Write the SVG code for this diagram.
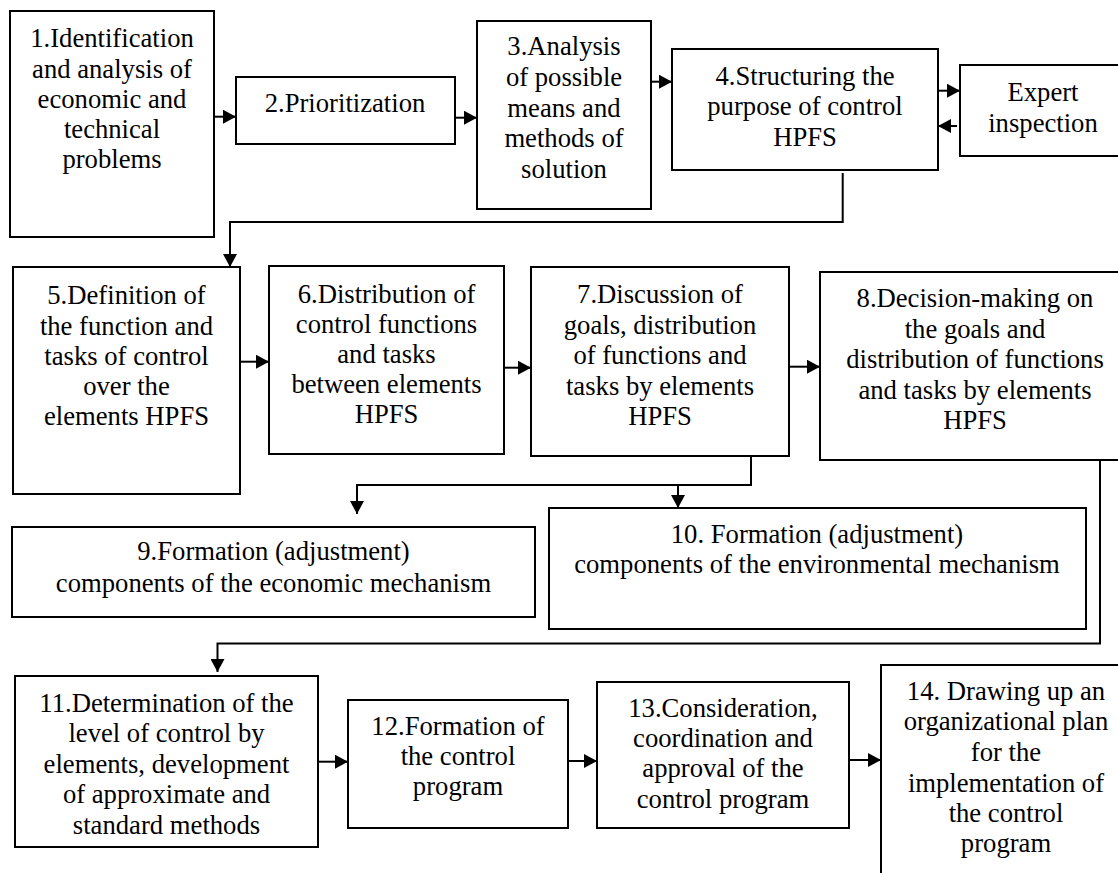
<svg xmlns="http://www.w3.org/2000/svg" width="1118" height="873" viewBox="0 0 1118 873">
  <defs>
    <style>
      .box { fill: #ffffff; stroke: #000000; stroke-width: 2; }
      .lbl { font-family: "Liberation Serif", "Times New Roman", serif; font-size: 26.67px; fill: #000000; text-anchor: middle; }
      .conn { fill: none; stroke: #000000; stroke-width: 2; }
    </style>
    <marker id="arrow" markerUnits="userSpaceOnUse" markerWidth="14" markerHeight="14" refX="13" refY="7" orient="auto">
      <path d="M0,0 L13,7 L0,14 z" fill="#000000"/>
    </marker>
  </defs>
  <rect width="1118" height="873" fill="#ffffff"/>

  <g id="node1">
    <rect class="box" x="10" y="11" width="204" height="226"/>
    <text class="lbl" x="112"><tspan x="112" y="47">1.Identification</tspan><tspan x="112" y="77.5">and analysis of</tspan><tspan x="112" y="108">economic and</tspan><tspan x="112" y="138">technical</tspan><tspan x="112" y="168">problems</tspan></text>
  </g>
  <g id="node2">
    <rect class="box" x="236" y="77" width="219" height="67"/>
    <text class="lbl" x="345" y="111.7">2.Prioritization</text>
  </g>
  <g id="node3">
    <rect class="box" x="477" y="21" width="174" height="188"/>
    <text class="lbl"><tspan x="564" y="55">3.Analysis</tspan><tspan x="564" y="86">of possible</tspan><tspan x="564" y="116.5">means and</tspan><tspan x="564" y="147">methods of</tspan><tspan x="564" y="178">solution</tspan></text>
  </g>
  <g id="node4">
    <rect class="box" x="672" y="49" width="266" height="121"/>
    <text class="lbl"><tspan x="805" y="84.5">4.Structuring the</tspan><tspan x="805" y="115">purpose of control</tspan><tspan x="805" y="145.5">HPFS</tspan></text>
  </g>
  <g id="expert">
    <rect class="box" x="960" y="65" width="168" height="91"/>
    <text class="lbl"><tspan x="1043" y="101">Expert</tspan><tspan x="1043" y="131.5">inspection</tspan></text>
  </g>
  <g id="node5">
    <rect class="box" x="13" y="267" width="227" height="227"/>
    <text class="lbl"><tspan x="126.5" y="304">5.Definition of</tspan><tspan x="126.5" y="334.5">the function and</tspan><tspan x="126.5" y="364.5">tasks of control</tspan><tspan x="126.5" y="394.5">over the</tspan><tspan x="126.5" y="424.5">elements HPFS</tspan></text>
  </g>
  <g id="node6">
    <rect class="box" x="269" y="266" width="235" height="188"/>
    <text class="lbl"><tspan x="386.5" y="302.5">6.Distribution of</tspan><tspan x="386.5" y="332.5">control functions</tspan><tspan x="386.5" y="362.5">and tasks</tspan><tspan x="386.5" y="392.5">between elements</tspan><tspan x="386.5" y="423">HPFS</tspan></text>
  </g>
  <g id="node7">
    <rect class="box" x="531" y="267" width="258" height="189"/>
    <text class="lbl"><tspan x="660" y="303">7.Discussion of</tspan><tspan x="660" y="333.5">goals, distribution</tspan><tspan x="660" y="364">of functions and</tspan><tspan x="660" y="394.5">tasks by elements</tspan><tspan x="660" y="425">HPFS</tspan></text>
  </g>
  <g id="node8">
    <rect class="box" x="820" y="272" width="310" height="188"/>
    <text class="lbl"><tspan x="975" y="307">8.Decision-making on</tspan><tspan x="975" y="337.5">the goals and</tspan><tspan x="975" y="368">distribution of functions</tspan><tspan x="975" y="398.5">and tasks by elements</tspan><tspan x="975" y="429">HPFS</tspan></text>
  </g>
  <g id="node9">
    <rect class="box" x="12" y="527" width="523" height="90"/>
    <text class="lbl"><tspan x="273.5" y="560">9.Formation (adjustment)</tspan><tspan x="273.5" y="591.7">components of the economic mechanism</tspan></text>
  </g>
  <g id="node10">
    <rect class="box" x="549" y="508" width="537" height="121"/>
    <text class="lbl"><tspan x="817" y="543.3">10. Formation (adjustment)</tspan><tspan x="817" y="573.3">components of the environmental mechanism</tspan></text>
  </g>
  <g id="node11">
    <rect class="box" x="15" y="676" width="303" height="171"/>
    <text class="lbl"><tspan x="166.5" y="711.5">11.Determination of the</tspan><tspan x="166.5" y="742">level of control by</tspan><tspan x="166.5" y="772.5">elements, development</tspan><tspan x="166.5" y="803">of approximate and</tspan><tspan x="166.5" y="833.5">standard methods</tspan></text>
  </g>
  <g id="node12">
    <rect class="box" x="348" y="700" width="220" height="128"/>
    <text class="lbl"><tspan x="458" y="735">12.Formation of</tspan><tspan x="458" y="765">the control</tspan><tspan x="458" y="795">program</tspan></text>
  </g>
  <g id="node13">
    <rect class="box" x="597" y="682" width="252" height="146"/>
    <text class="lbl"><tspan x="723" y="716.5">13.Consideration,</tspan><tspan x="723" y="747">coordination and</tspan><tspan x="723" y="777">approval of the</tspan><tspan x="723" y="807.5">control program</tspan></text>
  </g>
  <g id="node14">
    <rect class="box" x="881" y="665" width="250" height="220"/>
    <text class="lbl"><tspan x="1006" y="700">14. Drawing up an</tspan><tspan x="1006" y="730">organizational plan</tspan><tspan x="1006" y="761">for the</tspan><tspan x="1006" y="791.7">implementation of</tspan><tspan x="1006" y="821.7">the control</tspan><tspan x="1006" y="851.7">program</tspan></text>
  </g>

  <g id="connectors">
    <path class="conn" d="M214,116.7 H236" marker-end="url(#arrow)"/>
    <path class="conn" d="M455,117.7 H477" marker-end="url(#arrow)"/>
    <path class="conn" d="M651,81.7 H672" marker-end="url(#arrow)"/>
    <path class="conn" d="M938,90.7 H960" marker-end="url(#arrow)"/>
    <path class="conn" d="M957,126 H938" marker-end="url(#arrow)"/>
    <path class="conn" d="M842.7,173 V222 H230 V267" marker-end="url(#arrow)"/>
    <path class="conn" d="M240,361.7 H269" marker-end="url(#arrow)"/>
    <path class="conn" d="M504,367.7 H531" marker-end="url(#arrow)"/>
    <path class="conn" d="M789,366.7 H820" marker-end="url(#arrow)"/>
    <path class="conn" d="M751,456 V485 H357 V514" marker-end="url(#arrow)"/>
    <path class="conn" d="M678,485 V508" marker-end="url(#arrow)"/>
    <path class="conn" d="M1100,460 V643.5 H217.5 V672" marker-end="url(#arrow)"/>
    <path class="conn" d="M318,761.7 H348" marker-end="url(#arrow)"/>
    <path class="conn" d="M568,761 H597" marker-end="url(#arrow)"/>
    <path class="conn" d="M849,760 H881" marker-end="url(#arrow)"/>
  </g>
</svg>
